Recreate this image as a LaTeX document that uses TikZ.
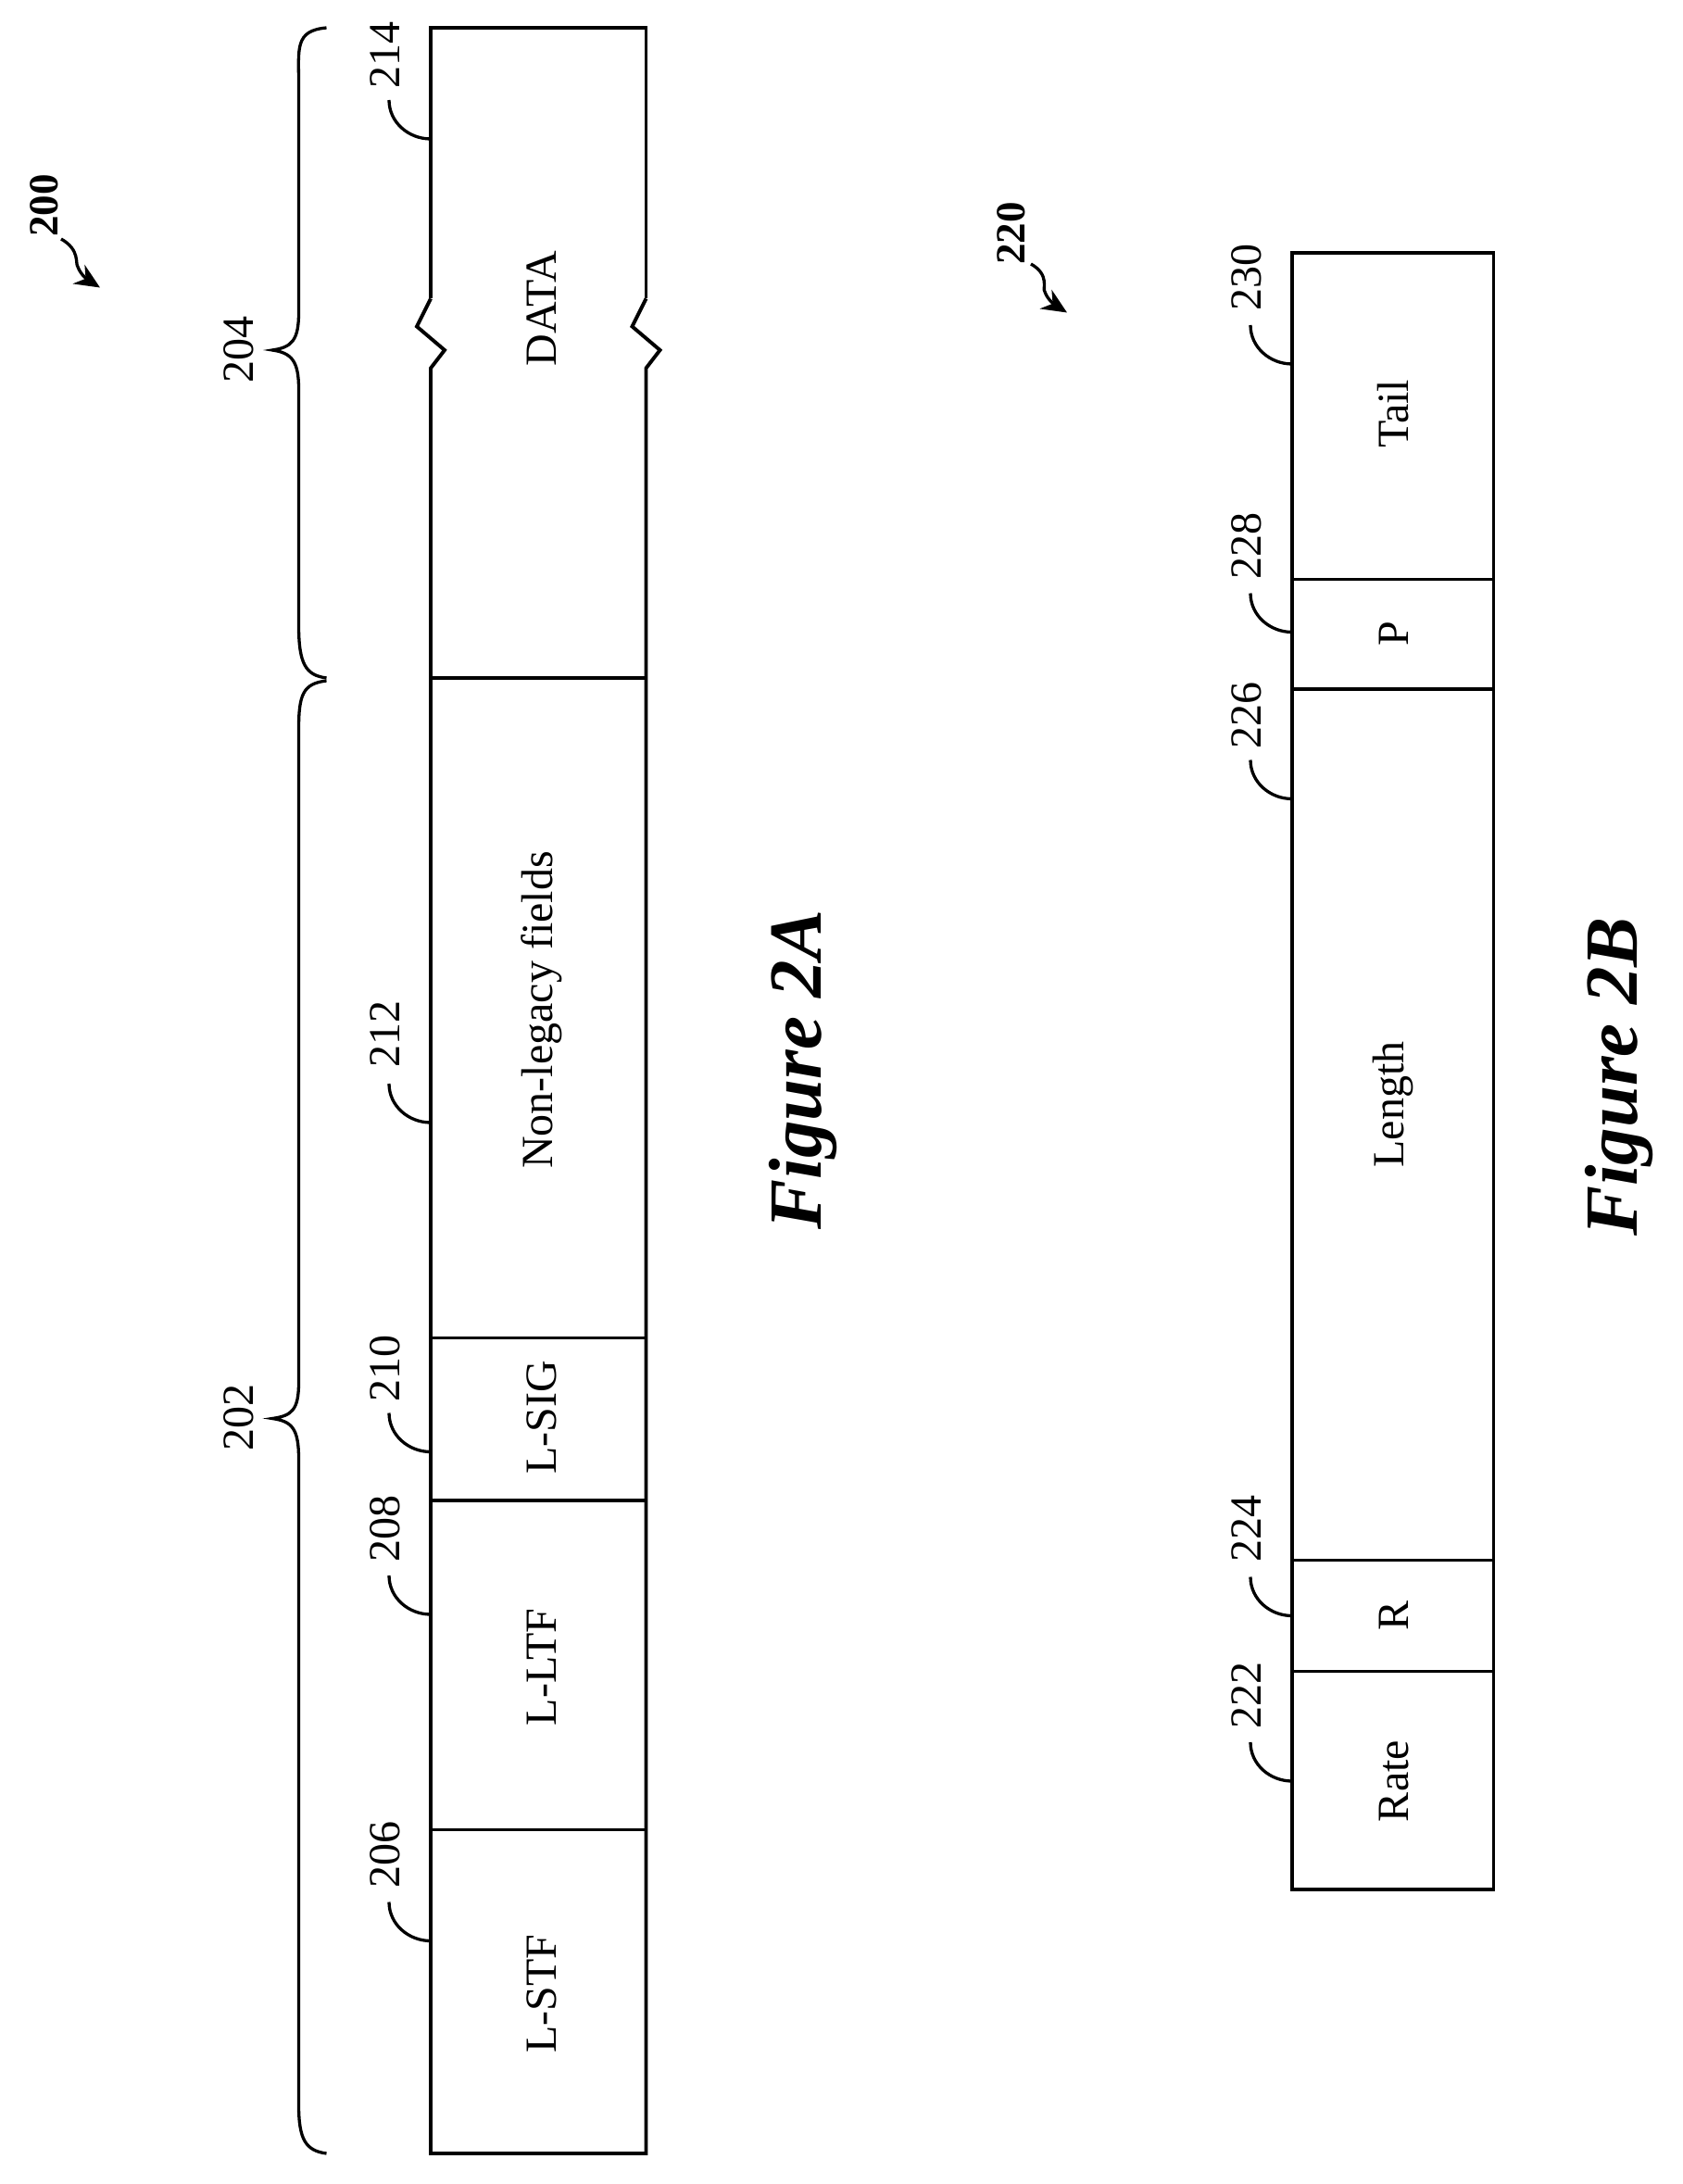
\documentclass[tikz,border=0pt]{standalone}
\usepackage{fontspec}
\setmainfont{Liberation Serif}
\usetikzlibrary{arrows.meta,calc}
\begin{document}
\begin{tikzpicture}[x=0.5pt,y=-0.5pt,
  fld/.style={rotate=90,font=\fontsize{16}{18}\selectfont},
  num/.style={rotate=90,font=\fontsize{16}{18}\selectfont},
  bnum/.style={rotate=90,font=\bfseries\fontsize{15}{17}\selectfont},
  fig/.style={rotate=90,font=\bfseries\itshape\fontsize{27}{30}\selectfont},
  box/.style={line width=1.3pt},
  lead/.style={line width=1.1pt},
  brace/.style={line width=1.1pt}]
\useasboundingbox (0,0) rectangle (1211,1572);
% Figure 2A box
\draw[box] (310,215) -- (310,20) -- (465,20) -- (465,215);
\draw[box] (310,215) -- (300,235) -- (320,252) -- (310,265) -- (310,1550) -- (465,1550) -- (465,265) -- (475,252) -- (455,235) -- (465,215);
\foreach \y in {488,963,1080,1317} \draw[box] (310,\y) -- (465,\y);
\node[fld] (data) at (390,222) {DATA};
\node[fld] (nl) at (390,727) {Non-legacy fields};
\node[fld] (lsig) at (390,1020) {L-SIG};
\node[fld] (lltf) at (390,1200) {L-LTF};
\node[fld] (lstf) at (390,1435) {L-STF};
% braces
\draw[brace] (235,20) .. controls (212,22) and (215,35) .. (215,60) -- (215,225) .. controls (215,245) and (210,250) .. (196,252)
  .. controls (210,254) and (215,260) .. (215,280) -- (215,450) .. controls (215,478) and (220,486) .. (235,488);
\draw[brace] (235,490) .. controls (218,492) and (215,500) .. (215,525) -- (215,995) .. controls (215,1015) and (210,1019) .. (196,1021)
  .. controls (210,1023) and (215,1028) .. (215,1050) -- (215,1515) .. controls (215,1540) and (220,1548) .. (235,1550);
\node[num] (n204) at (172,252) {204};
\node[num] (n202) at (172,1020) {202};
% ref labels 2A
\node[num] (n214) at (277,40) {214};
\node[num] (n212) at (277,744) {212};
\node[num] (n210) at (277,985) {210};
\node[num] (n208) at (277,1100) {208};
\node[num] (n206) at (277,1335) {206};
\coordinate (c214) at (310,100);
\coordinate (c212) at (310,808);
\coordinate (c210) at (310,1045);
\coordinate (c208) at (310,1162);
\coordinate (c206) at (310,1397);
\foreach \n in {214,212,210,208,206}
  \draw[lead] ($(c\n)+(-30,-28)$) .. controls ($(c\n)+(-30,-12)$) and ($(c\n)+(-16,0)$) .. (c\n);
\node[bnum] (n200) at (32,148) {200};
\coordinate (a200) at (72,207);
\draw[lead,-{Stealth[length=9pt,width=8pt]}] (44,172) .. controls (58,180) and (54,190) .. (56,192) .. controls (58,198) and (64,202) .. (a200);
\node[fig] (f2a) at (578,770) {Figure 2A};
% Figure 2B
\draw[box] (930,182) rectangle (1075,1360);
\foreach \y in {417,496,1123,1203} \draw[box] (930,\y) -- (1075,\y);
\node[fld] (tail) at (1003,298) {Tail};
\node[fld] (p) at (1003,456) {P};
\node[fld] (len) at (1003,795) {Length};
\node[fld] (r) at (1003,1163) {R};
\node[fld] (rate) at (1003,1282) {Rate};
\node[num] (n230) at (897,200) {230};
\node[num] (n228) at (897,393) {228};
\node[num] (n226) at (897,515) {226};
\node[num] (n224) at (897,1100) {224};
\node[num] (n222) at (897,1220) {222};
\coordinate (c230) at (930,262);
\coordinate (c228) at (930,455);
\coordinate (c226) at (930,575);
\coordinate (c224) at (930,1163);
\coordinate (c222) at (930,1282);
\foreach \n in {230,228,226,224,222}
  \draw[lead] ($(c\n)+(-30,-28)$) .. controls ($(c\n)+(-30,-12)$) and ($(c\n)+(-16,0)$) .. (c\n);
\node[bnum] (n220) at (728,168) {220};
\coordinate (a220) at (768,225);
\draw[lead,-{Stealth[length=9pt,width=8pt]}] (742,190) .. controls (756,198) and (750,208) .. (752,210) .. controls (754,216) and (760,220) .. (a220);
\node[fig] (f2b) at (1165,775) {Figure 2B};
\end{tikzpicture}
\end{document}
